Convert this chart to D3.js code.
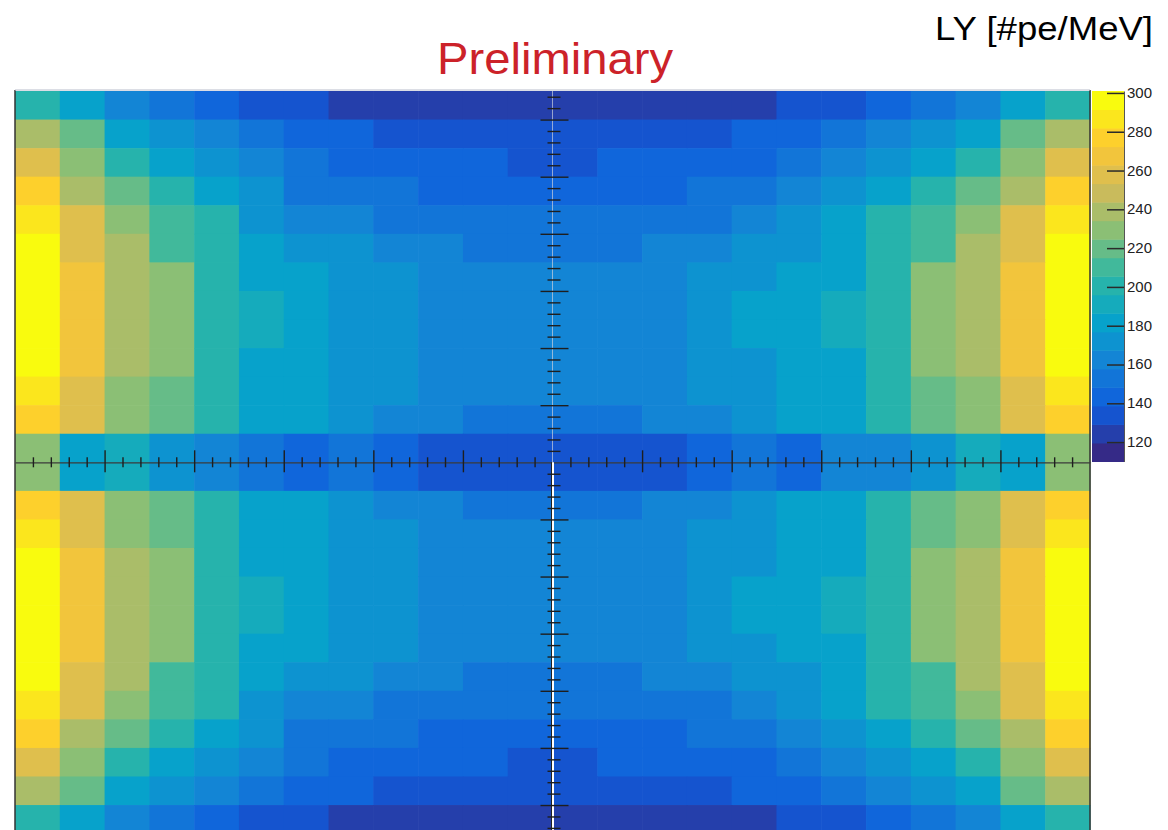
<!DOCTYPE html>
<html>
<head>
<meta charset="utf-8">
<script src="https://cdn.jsdelivr.net/npm/d3@7"></script>
<style>
  body { margin: 0; background: #fff; }
  svg { display: block; font-family: "Liberation Sans", Arial, Helvetica, sans-serif; }
</style>
</head>
<body>
<div id="chart"></div>
<script>
// light yield [#pe/MeV] per cell, rows listed top -> bottom, columns left -> right
const lyRows = [
  [200,181,162,153,143,134,134,124,124,124,124,124,124,124,124,124,124,134,134,143,153,162,181,200],
  [239,220,181,172,162,153,143,143,134,134,134,134,134,134,134,134,143,143,153,162,172,181,220,239],
  [258,229,200,181,172,162,153,143,143,143,143,134,134,143,143,143,143,153,162,172,181,200,229,258],
  [277,239,220,200,181,172,153,153,153,143,143,143,143,143,143,153,153,162,172,181,200,220,239,277],
  [286,258,229,210,200,172,162,162,153,153,153,153,153,153,153,153,162,172,181,200,210,229,258,286],
  [296,258,239,210,200,181,172,172,162,162,153,153,153,153,162,162,172,172,181,200,210,239,258,296],
  [296,267,239,229,200,181,181,172,172,162,162,162,162,162,162,172,172,181,181,200,229,239,267,296],
  [296,267,239,229,200,191,181,172,172,162,162,162,162,162,162,172,181,181,191,200,229,239,267,296],
  [296,267,239,229,200,191,181,172,172,162,162,162,162,162,162,172,181,181,191,200,229,239,267,296],
  [296,267,239,229,200,181,181,172,172,162,162,162,162,162,162,172,172,181,181,200,229,239,267,296],
  [286,258,229,220,200,181,181,172,172,162,162,162,162,162,162,172,172,181,181,200,220,229,258,286],
  [277,258,229,220,200,181,181,172,162,162,153,153,153,153,162,162,172,181,181,200,220,229,258,277],
  [229,181,191,172,162,153,143,153,143,134,134,134,134,134,134,143,153,143,162,162,172,191,181,229],
  [229,181,191,172,162,153,143,153,143,134,134,134,134,134,134,143,153,143,162,162,172,191,181,229],
  [277,258,229,220,200,181,181,172,162,162,153,153,153,153,162,162,172,181,181,200,220,229,258,277],
  [286,258,229,220,200,181,181,172,172,162,162,162,162,162,162,172,172,181,181,200,220,229,258,286],
  [296,267,239,229,200,181,181,172,172,162,162,162,162,162,162,172,172,181,181,200,229,239,267,296],
  [296,267,239,229,200,191,181,172,172,162,162,162,162,162,162,172,181,181,191,200,229,239,267,296],
  [296,267,239,229,200,191,181,172,172,162,162,162,162,162,162,172,181,181,191,200,229,239,267,296],
  [296,267,239,229,200,181,181,172,172,162,162,162,162,162,162,172,172,181,181,200,229,239,267,296],
  [296,258,239,210,200,181,172,172,162,162,153,153,153,153,162,162,172,172,181,200,210,239,258,296],
  [286,258,229,210,200,172,162,162,153,153,153,153,153,153,153,153,162,172,181,200,210,229,258,286],
  [277,239,220,200,181,172,153,153,153,143,143,143,143,143,143,153,153,162,172,181,200,220,239,277],
  [258,229,200,181,172,162,153,143,143,143,143,134,134,143,143,143,143,153,162,172,181,200,229,258],
  [239,220,181,172,162,153,143,143,134,134,134,134,134,134,134,134,143,143,153,162,172,181,220,239],
  [200,181,162,153,143,134,134,124,124,124,124,124,124,124,124,124,124,134,134,143,153,162,181,200]
];

// histogram binning (axis units)
const xRange = [-30, 30];
const yRange = [-32.5, 32.5];
const binSize = 2.5;

// colour scale
const zRange = [110, 301];
const nContours = 20;
const zTicks = [120, 140, 160, 180, 200, 220, 240, 260, 280, 300];
const paletteStops = [0, 0.125, 0.25, 0.375, 0.5, 0.625, 0.75, 0.875, 1];
const paletteColors = ["#352a87", "#0f5cdd", "#1481d6", "#06a4ca", "#2eb7a4",
                       "#87bf77", "#d1bb59", "#fec832", "#f9fb0e"];

const svg = d3.select("#chart")
    .append("svg")
    .attr("width", 1168)
    .attr("height", 830);

const x = d3.scaleLinear().domain(xRange).range([15, 1090]);
const y = d3.scaleLinear().domain(yRange).range([833.6, 91]);

const bird = d3.scaleLinear()
    .domain(paletteStops)
    .range(paletteColors)
    .interpolate(d3.interpolateRgb);
const color = d3.scaleQuantize()
    .domain(zRange)
    .range(d3.range(nContours).map(i => bird(i / (nContours - 1))));

// cells
const cells = lyRows.flatMap((row, r) => row.map((v, c) => ({r, c, v})));
svg.append("g")
    .selectAll("rect")
    .data(cells)
    .join("rect")
    .attr("x", d => x(xRange[0] + d.c * binSize))
    .attr("y", d => y(yRange[1] - d.r * binSize))
    .attr("width", d => x(xRange[0] + (d.c + 1) * binSize) - x(xRange[0] + d.c * binSize) + 0.6)
    .attr("height", d => y(yRange[1] - (d.r + 1) * binSize) - y(yRange[1] - d.r * binSize) + 0.6)
    .attr("fill", d => color(d.v));

// frame sides
svg.append("line").attr("x1", 15).attr("x2", 15).attr("y1", 90).attr("y2", 830)
    .attr("stroke", "#333").attr("stroke-width", 1.5);
svg.append("line").attr("x1", 1090).attr("x2", 1090).attr("y1", 90).attr("y2", 830)
    .attr("stroke", "#333").attr("stroke-width", 1.5);
svg.append("line").attr("x1", 15).attr("x2", 1090).attr("y1", 90).attr("y2", 90)
    .attr("stroke", "#b8bccb").attr("stroke-width", 1);

// axes drawn through the middle of the map
const tickColor = "#1e1e1e";
const xMinor = d3.range(-29, 30).filter(v => v !== 0 && v % 5 !== 0);
const xMajor = d3.range(-25, 30, 5).filter(v => v !== 0);
const yMinor = d3.range(-32, 33).filter(v => v !== 0 && v % 5 !== 0);
const yMajor = d3.range(-30, 35, 5).filter(v => v !== 0);

const gx = svg.append("g").attr("transform", `translate(0,${y(0)})`);
gx.append("g")
    .call(d3.axisBottom(x).tickValues(xMinor).tickSizeInner(5).tickSizeOuter(0).tickFormat(""))
    .call(g => g.select(".domain").attr("stroke", "#3a3a3a").attr("stroke-width", 1.2))
    .call(g => g.selectAll(".tick line").attr("y1", -5).attr("stroke", tickColor).attr("stroke-width", 1.4));
gx.append("g")
    .call(d3.axisBottom(x).tickValues(xMajor).tickSizeInner(10).tickSizeOuter(0).tickFormat(""))
    .call(g => g.select(".domain").remove())
    .call(g => g.selectAll(".tick line").attr("y1", -12).attr("stroke", tickColor).attr("stroke-width", 1.4));

const x0 = x(0);
// vertical axis line: faint above the horizontal axis, solid below
svg.append("line").attr("x1", x0).attr("x2", x0).attr("y1", 91).attr("y2", y(0))
    .attr("stroke", "#c9cfdc").attr("stroke-opacity", 0.7).attr("stroke-width", 1);
svg.append("line").attr("x1", x0 + 0.5).attr("x2", x0 + 0.5).attr("y1", y(0)).attr("y2", 830)
    .attr("stroke", "#ffffff").attr("stroke-width", 2);
svg.append("line").attr("x1", x0 - 1).attr("x2", x0 - 1).attr("y1", y(0)).attr("y2", 830)
    .attr("stroke", "#222").attr("stroke-width", 1);

const gy = svg.append("g").attr("transform", `translate(${x0},0)`);
gy.append("g")
    .call(d3.axisRight(y).tickValues(yMinor).tickSizeInner(8).tickSizeOuter(0).tickFormat(""))
    .call(g => g.select(".domain").remove())
    .call(g => g.selectAll(".tick line").attr("x1", -5).attr("stroke", tickColor).attr("stroke-width", 1.4));
gy.append("g")
    .call(d3.axisRight(y).tickValues(yMajor).tickSizeInner(16).tickSizeOuter(0).tickFormat(""))
    .call(g => g.select(".domain").remove())
    .call(g => g.selectAll(".tick line").attr("x1", -12).attr("stroke", tickColor).attr("stroke-width", 1.4));

// colour bar
const z = d3.scaleLinear().domain(zRange).range([461.5, 91]);
const dz = (zRange[1] - zRange[0]) / nContours;
svg.append("g")
    .selectAll("rect")
    .data(d3.range(nContours))
    .join("rect")
    .attr("x", 1092)
    .attr("width", 32)
    .attr("y", i => z(zRange[0] + (i + 1) * dz))
    .attr("height", i => z(zRange[0] + i * dz) - z(zRange[0] + (i + 1) * dz) + 0.5)
    .attr("fill", i => color(zRange[0] + (i + 0.5) * dz));

svg.append("g")
    .attr("transform", "translate(1124,0)")
    .call(d3.axisRight(z).tickValues(zTicks).tickSizeInner(-17).tickSizeOuter(0).tickPadding(3))
    .call(g => g.select(".domain").attr("stroke", "#555").attr("stroke-width", 1))
    .call(g => g.selectAll(".tick line").attr("stroke", "#2a2a2a").attr("stroke-width", 1.5))
    .call(g => g.selectAll(".tick text")
        .attr("fill", "#222")
        .attr("textLength", 25)
        .attr("lengthAdjust", "spacingAndGlyphs")
        .style("font-size", "14px")
        .style("font-family", "'Liberation Sans', Arial, sans-serif"));

// titles
svg.append("text")
    .attr("x", 437)
    .attr("y", 74)
    .attr("fill", "#cc2229")
    .attr("textLength", 236)
    .attr("lengthAdjust", "spacingAndGlyphs")
    .style("font-size", "45px")
    .text("Preliminary");

svg.append("text")
    .attr("x", 935)
    .attr("y", 40)
    .attr("fill", "#000")
    .attr("textLength", 218)
    .attr("lengthAdjust", "spacingAndGlyphs")
    .style("font-size", "32.5px")
    .text("LY [#pe/MeV]");
</script>
</body>
</html>
